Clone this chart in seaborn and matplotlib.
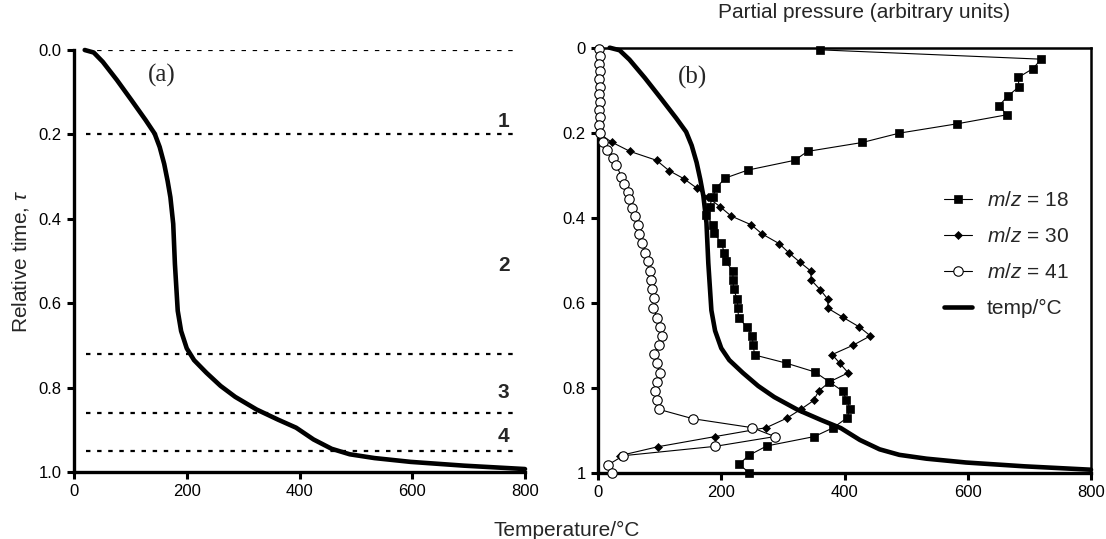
import matplotlib
matplotlib.use("Agg")
import matplotlib.pyplot as plt
import seaborn as sns

# temperature programme vs relative time (same curve in both panels)
temp_c = [19, 35, 51, 76, 102, 127, 143, 152, 160, 166, 171, 176, 179, 184, 190, 200,
          213, 235, 260, 286, 324, 362, 394, 425, 457, 489, 533, 597, 692, 800]
temp_tau = [0.0, 0.006, 0.028, 0.071, 0.119, 0.166, 0.198, 0.230, 0.270, 0.310, 0.349, 0.412,
            0.507, 0.618, 0.666, 0.707, 0.735, 0.765, 0.796, 0.822, 0.852, 0.876, 0.895,
            0.923, 0.945, 0.958, 0.967, 0.976, 0.985, 0.993]

# region boundaries / labels in panel (a)
region_bounds = [0.0, 0.2, 0.72, 0.86, 0.95]
region_labels = ["1", "2", "3", "4"]
region_label_tau = [0.170, 0.511, 0.812, 0.915]

# partial pressures (arbitrary units, drawn on the temperature scale)
mz18_p = [360, 719, 706, 682, 683, 665, 651, 663, 583, 489, 429, 340, 319, 243, 206, 192,
          186, 181, 176, 187, 189, 200, 205, 207, 219, 219, 220, 226, 227, 228, 242, 250,
          252, 254, 305, 352, 375, 397, 403, 409, 404, 382, 351, 274, 245, 229, 245]
mz18_tau = [0.005, 0.027, 0.049, 0.070, 0.092, 0.114, 0.136, 0.158, 0.179, 0.201, 0.223,
            0.244, 0.265, 0.288, 0.307, 0.330, 0.351, 0.374, 0.394, 0.418, 0.437, 0.460,
            0.482, 0.503, 0.525, 0.546, 0.568, 0.592, 0.613, 0.635, 0.658, 0.678, 0.700,
            0.723, 0.742, 0.763, 0.786, 0.808, 0.828, 0.849, 0.871, 0.894, 0.915, 0.937,
            0.959, 0.980, 1.000]

mz30_p = [0, 22, 52, 95, 115, 139, 160, 178, 198, 216, 249, 266, 294, 310, 327, 345, 346,
          361, 373, 373, 397, 424, 442, 414, 380, 392, 406, 376, 358, 350, 329, 306, 273,
          190, 97, 35]
mz30_tau = [0.200, 0.222, 0.244, 0.265, 0.289, 0.308, 0.330, 0.352, 0.374, 0.396, 0.417,
            0.438, 0.461, 0.483, 0.504, 0.525, 0.547, 0.570, 0.592, 0.613, 0.634, 0.657,
            0.678, 0.700, 0.722, 0.742, 0.765, 0.786, 0.808, 0.830, 0.851, 0.872, 0.894,
            0.915, 0.939, 0.960]

mz41_p = [2, 3, 2, 3, 2, 3, 2, 3, 2, 3, 2, 3, 8, 15, 24, 30, 38, 43, 49, 51, 55, 60, 65,
          67, 72, 77, 81, 84, 86, 88, 91, 90, 96, 100, 104, 99, 91, 96, 100, 96, 92, 95,
          99, 154, 250, 287, 190, 41, 17, 22]
mz41_tau = [0.003, 0.020, 0.038, 0.056, 0.074, 0.092, 0.110, 0.128, 0.146, 0.164, 0.182,
            0.200, 0.222, 0.240, 0.259, 0.277, 0.304, 0.321, 0.340, 0.356, 0.376, 0.396,
            0.418, 0.438, 0.459, 0.482, 0.502, 0.526, 0.546, 0.568, 0.590, 0.613, 0.635,
            0.657, 0.678, 0.700, 0.721, 0.742, 0.765, 0.786, 0.808, 0.829, 0.851, 0.873,
            0.894, 0.915, 0.938, 0.960, 0.981, 1.001]

tau_ticks = [0.0, 0.2, 0.4, 0.6, 0.8, 1.0]
temp_ticks = [0, 200, 400, 600, 800]

sns.set_theme(style="ticks")
plt.rcParams["font.family"] = ["Liberation Sans", "DejaVu Sans"]
plt.rcParams["mathtext.fontset"] = "custom"
plt.rcParams["mathtext.rm"] = "Liberation Sans"
plt.rcParams["mathtext.it"] = "Liberation Sans:italic"

W, H = 1106, 539
fig = plt.figure(figsize=(W / 100, H / 100), dpi=100)
ax1 = fig.add_axes([74 / W, 1 - 472 / H, 451 / W, 422 / H])
ax2 = fig.add_axes([598 / W, 1 - 472.7 / H, 493 / W, 425 / H])

# ---- panel (a)
ax1.hlines(region_bounds, 22, 790, colors="black", linestyles=(0, (2, 3)), lw=1.6, zorder=1)
sns.lineplot(x=temp_c, y=temp_tau, sort=False, estimator=None, color="black",
             lw=3.3, ax=ax1, zorder=3, clip_on=False)
for lbl, t in zip(region_labels, region_label_tau):
    ax1.text(762, t, lbl, fontsize=15, fontweight="bold", ha="center", va="center")
ax1.text(156, 0.06, "(a)", family=["Liberation Serif", "DejaVu Serif"], fontsize=18,
         ha="center", va="center")
ax1.set_xlim(0, 800)
ax1.set_ylim(1, 0)
ax1.set_xticks(temp_ticks)
ax1.set_yticks(tau_ticks)
ax1.set_yticklabels(["0.0", "0.2", "0.4", "0.6", "0.8", "1.0"])
ax1.spines["top"].set_visible(False)
ax1.spines["right"].set_visible(False)
ax1.set_ylabel("Relative time, $\\tau$", fontsize=15)
ax1.yaxis.set_label_coords(-0.095, 0.5)

# ---- panel (b)
sns.lineplot(x=temp_c, y=temp_tau, sort=False, estimator=None, color="black",
             lw=3.3, ax=ax2, zorder=3, label="temp/°C", clip_on=False)
sns.lineplot(x=mz18_p, y=mz18_tau, sort=False, estimator=None, color="black", lw=0.8,
             marker="s", markersize=6, markerfacecolor="black", markeredgecolor="black",
             markeredgewidth=0.5, ax=ax2, zorder=4, clip_on=False, label="$m/z$ = 18")
sns.lineplot(x=mz30_p, y=mz30_tau, sort=False, estimator=None, color="black", lw=0.8,
             marker="D", markersize=4, markerfacecolor="black", markeredgecolor="black",
             markeredgewidth=0.5, ax=ax2, zorder=4, clip_on=False, label="$m/z$ = 30")
sns.lineplot(x=mz41_p, y=mz41_tau, sort=False, estimator=None, color="black", lw=0.8,
             marker="o", markersize=6.8, markerfacecolor="white", markeredgecolor="black",
             markeredgewidth=0.8, ax=ax2, zorder=4, clip_on=False, label="$m/z$ = 41")
ax2.text(154, 0.069, "(b)", family=["Liberation Serif", "DejaVu Serif"], fontsize=18,
         ha="center", va="center")
ax2.set_xlim(0, 800)
ax2.set_ylim(1, 0)
ax2.set_xticks(temp_ticks)
ax2.set_yticks(tau_ticks)
ax2.set_yticklabels(["0", "0.2", "0.4", "0.6", "0.8", "1"])

handles, labels = ax2.get_legend_handles_labels()
order = [1, 2, 3, 0]
ax2.legend([handles[i] for i in order], [labels[i] for i in order],
           loc="upper left", bbox_to_anchor=(944 / W, 1 - 191 / H),
           bbox_transform=fig.transFigure, frameon=False, fontsize=15,
           borderpad=0, borderaxespad=0, handlelength=1.35, handletextpad=0.7,
           labelspacing=0.82)

for ax in (ax1, ax2):
    ax.set_xlabel("")
    for s in ax.spines.values():
        s.set_linewidth(2.4)
        s.set_color("black")
        s.set_zorder(2.5)
    ax.tick_params(direction="out", length=5, width=2.2, labelsize=12, pad=4,
                   color="black", labelcolor="black")
    ax.set_facecolor("white")
ax2.spines["top"].set_linewidth(1.8)
ax2.spines["right"].set_linewidth(1.8)

fig.text(567 / W, 1 - 530 / H, "Temperature/°C", fontsize=15, ha="center", va="center")
fig.text(864 / W, 1 - 13 / H, "Partial pressure (arbitrary units)", fontsize=15,
         ha="center", va="center")

fig.savefig("out.png", dpi=100, facecolor="white")
